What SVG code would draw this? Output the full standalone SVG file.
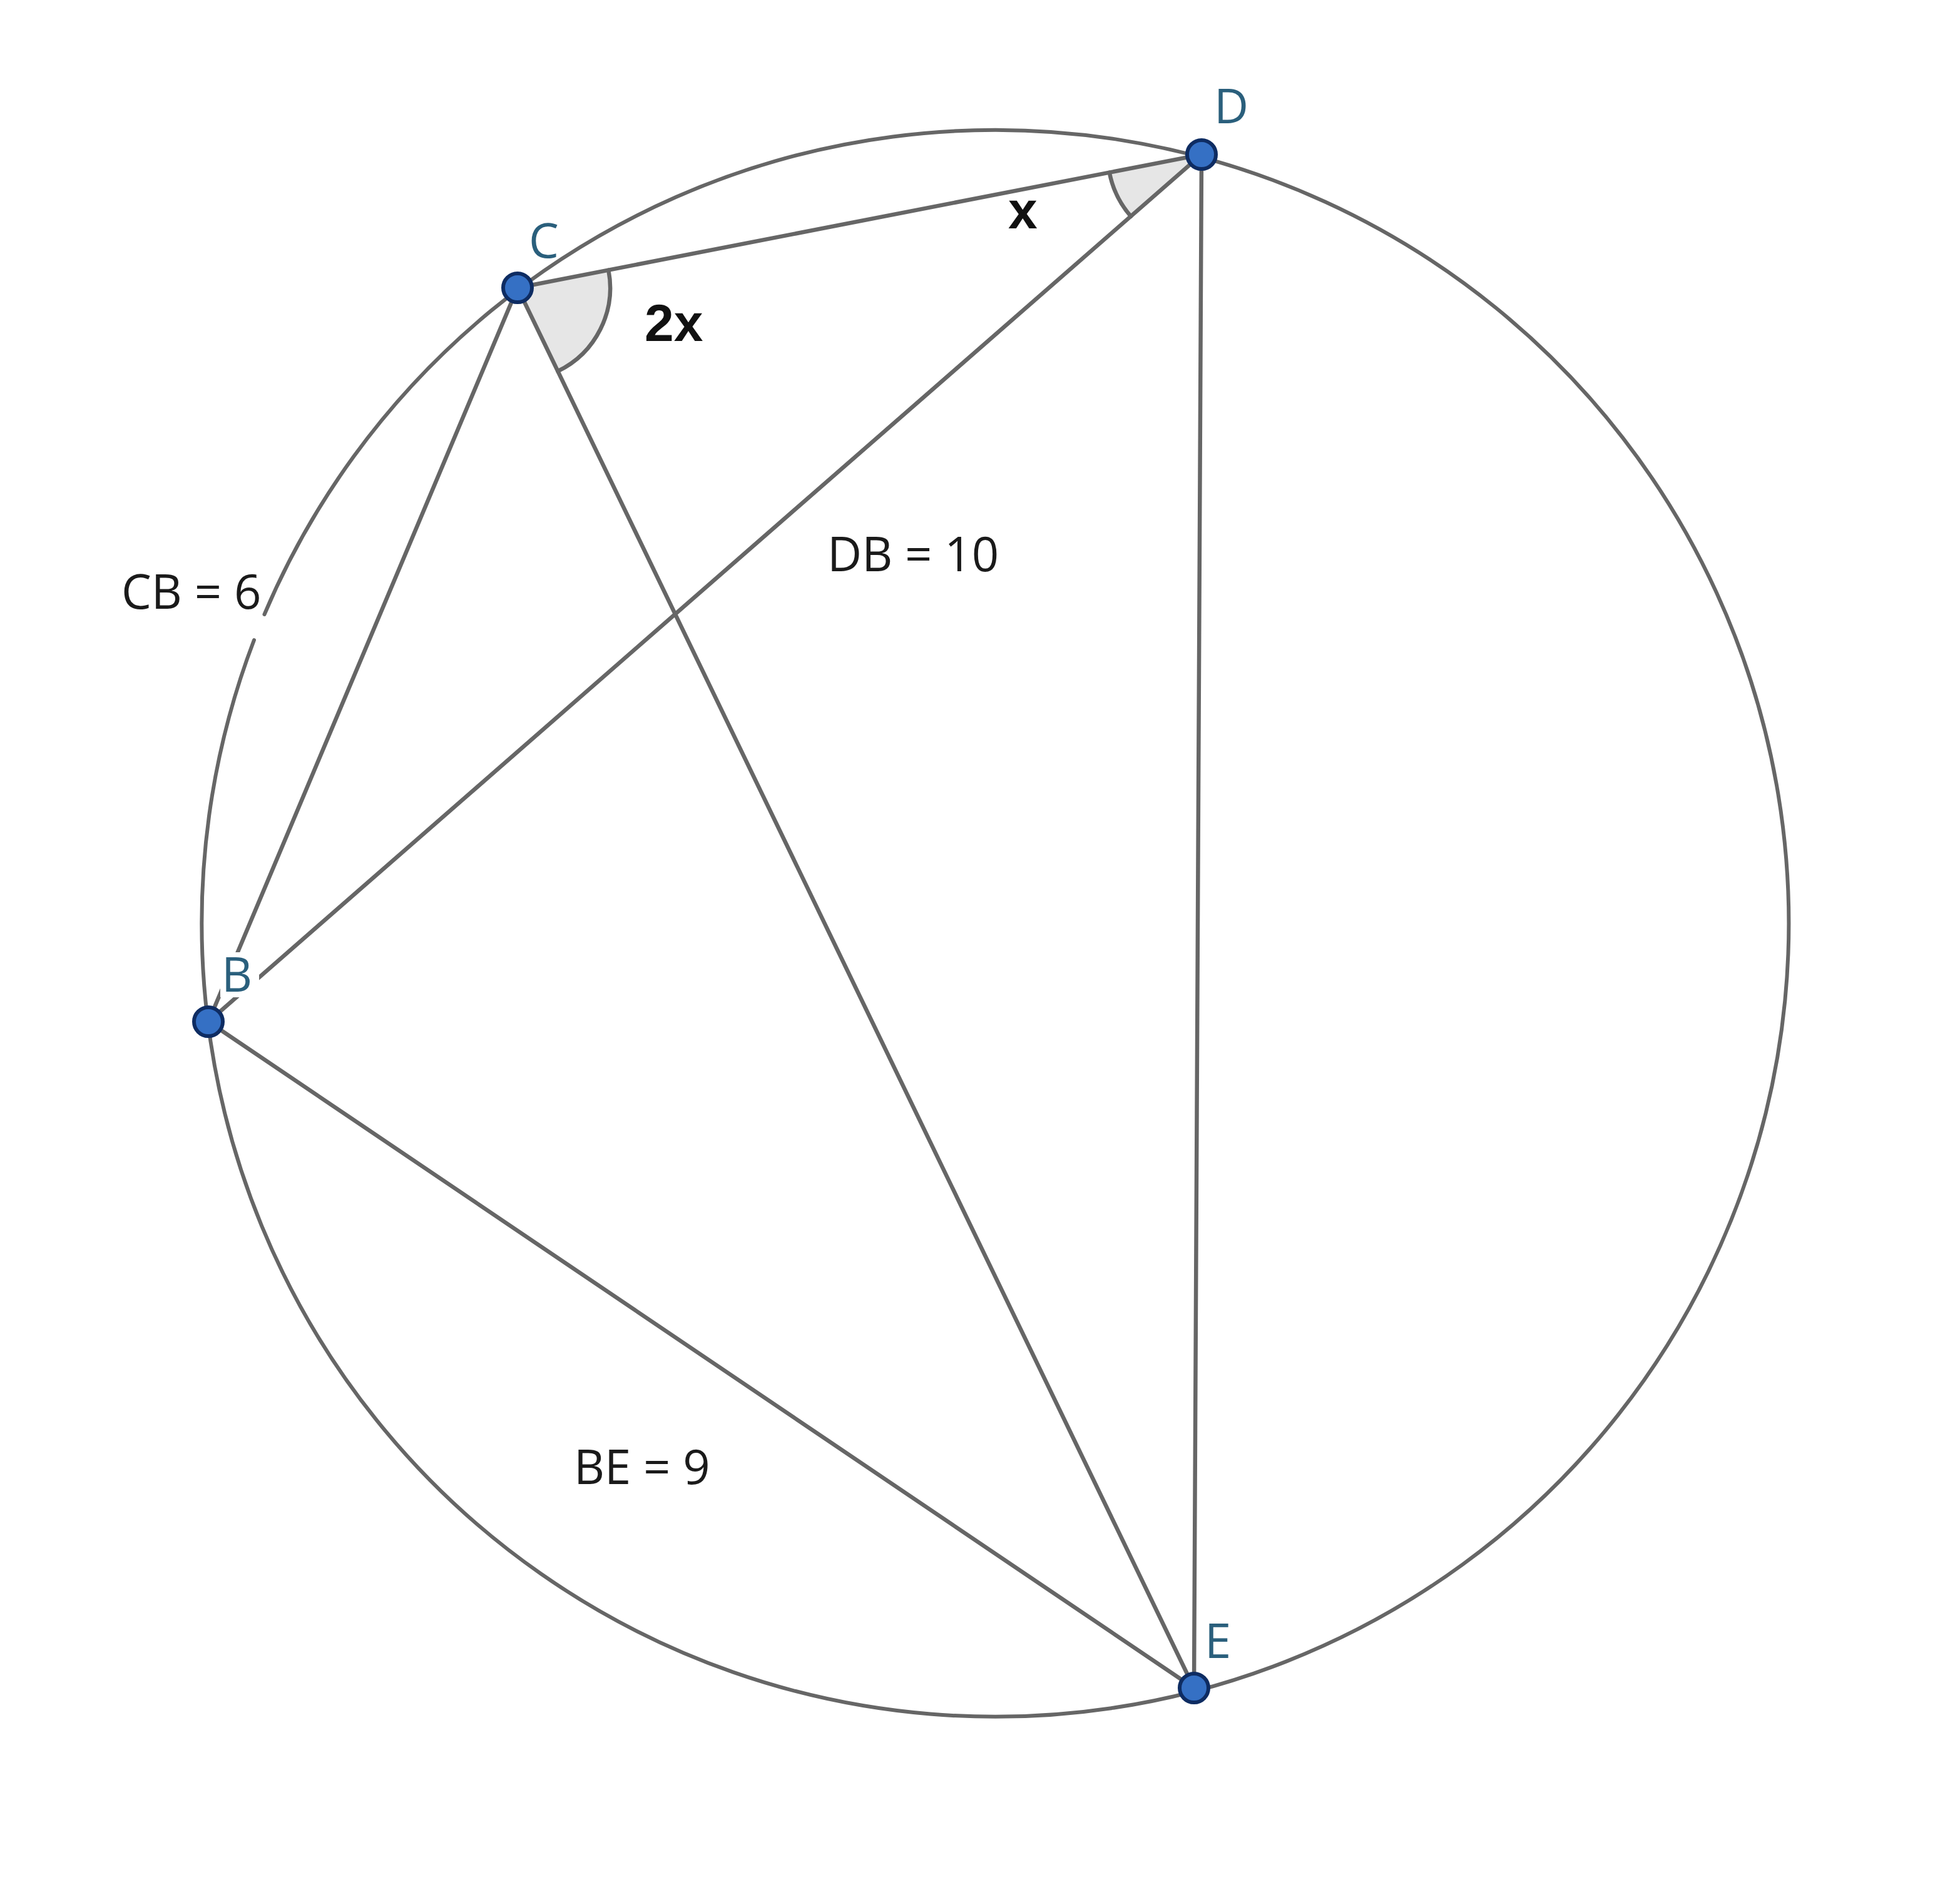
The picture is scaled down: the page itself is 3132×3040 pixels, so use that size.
<svg xmlns="http://www.w3.org/2000/svg" width="3132" height="3040" viewBox="0 0 3132 3040">
<style>
.ln{stroke:#666666;stroke-width:6.5;fill:none;stroke-linecap:round}
.circ{stroke:#666666;stroke-width:6;fill:none;stroke-linecap:round}
.sec{fill:#e6e6e6;stroke:none}
.dot{fill:#3570c4;stroke:#0e2c62;stroke-width:6}
.pl{font-family:"Open Sans","DejaVu Sans",sans-serif;font-size:76px;fill:#2a5f7c}
.lab{font-family:"Open Sans","DejaVu Sans",sans-serif;font-size:76px;fill:#1a1a1a}
.ang{font-family:"Liberation Sans",Arial,sans-serif;font-weight:bold;font-size:84px;fill:#111}
</style>
<rect width="3132" height="3040" fill="#ffffff"/>
<g id="circle">
<path class="circ" d="M406,1023 A1268,1268 0 1 0 422.5,982"/>
</g>
<g id="angle-markers">
<path class="sec" d="M1920,247 L1772.8,275.7 A150,150 0 0 0 1807,345.7 Z"/>
<path class="sec" d="M827,460 L972.3,431.7 A148,148 0 0 1 891.4,593.3 Z"/>
<path class="ln" d="M1772.8,275.7 A150,150 0 0 0 1807,345.7"/>
<path class="ln" d="M972.3,431.7 A148,148 0 0 1 891.4,593.3"/>
</g>
<g id="connectors">
<line class="ln" x1="1920" y1="247" x2="827" y2="460"/>
<line class="ln" x1="1920" y1="247" x2="333" y2="1633"/>
<line class="ln" x1="1920" y1="247" x2="1908" y2="2698"/>
<line class="ln" x1="827" y1="460" x2="333" y2="1633"/>
<line class="ln" x1="827" y1="460" x2="1908" y2="2698"/>
<line class="ln" x1="333" y1="1633" x2="1908" y2="2698"/>
</g>
<g id="labels">
<text class="lab" x="194" y="973">CB = 6</text>
<text class="lab" x="1322" y="913">DB = 10</text>
<text class="lab" x="917" y="2372">BE = 9</text>
<text class="ang" x="1030" y="545">2x</text>
<text class="ang" x="1611" y="365">x</text>
</g>
<g id="node-C">
<circle class="dot" cx="827" cy="460" r="23"/>
<text class="pl" x="845" y="412">C</text>
</g>
<g id="node-D">
<circle class="dot" cx="1920" cy="247" r="23"/>
<text class="pl" x="1940" y="197">D</text>
</g>
<g id="node-B">
<rect x="352" y="1522" width="62" height="72" fill="#ffffff"/>
<circle class="dot" cx="333" cy="1633" r="23"/>
<text class="pl" x="354" y="1585">B</text>
</g>
<g id="node-E">
<circle class="dot" cx="1908" cy="2698" r="23"/>
<text class="pl" x="1925" y="2650">E</text>
</g>
</svg>
